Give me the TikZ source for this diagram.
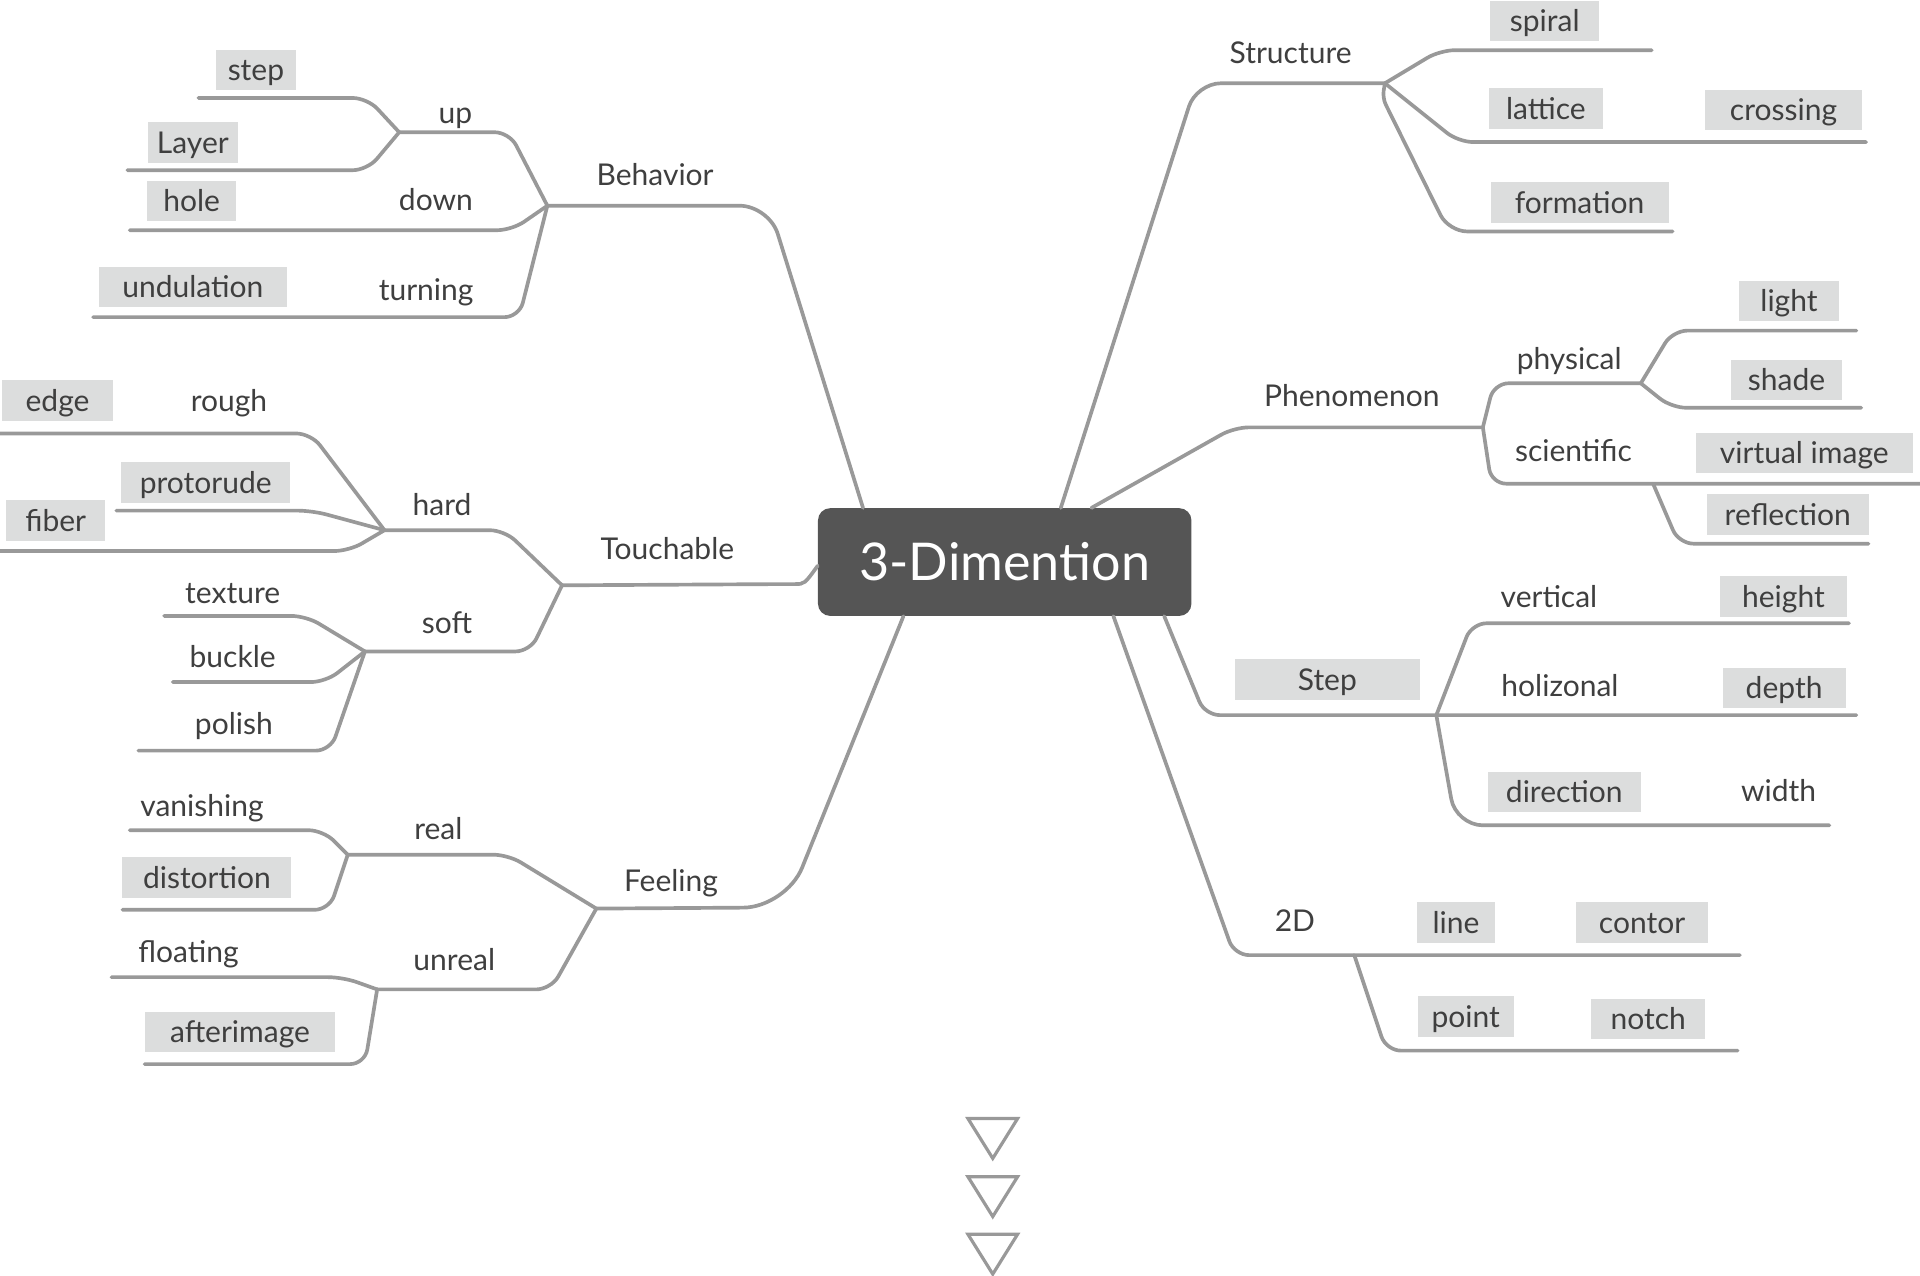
\documentclass[tikz,border=0pt]{standalone}
\usepackage{fontspec}
\setmainfont{Lato}
\newfontfamily\lbfamily{Lato}
\definecolor{linegray}{HTML}{999999}
\definecolor{boxgray}{HTML}{DCDDDD}
\definecolor{txtgray}{HTML}{3F3F3F}
\definecolor{hubgray}{HTML}{555555}
\begin{document}
\begin{tikzpicture}[x=1pt,y=-1pt,
  branch/.style={draw=linegray, line width=3pt, rounded corners=12pt, line cap=round},
  lbl/.style={text=txtgray, font=\lbfamily\fontsize{24.5}{27}\selectfont, inner sep=0pt, text height=17.5pt, text depth=0pt},
  tag/.style={lbl, fill=boxgray, minimum height=33pt},
  hub/.style={fill=hubgray, rounded corners=10pt, minimum width=305pt, minimum height=88pt, inner sep=0pt,
              text=white, font=\lbfamily\fontsize{42.5}{46}\selectfont, text height=30.5pt, text depth=0pt},
  tri/.style={draw=linegray, line width=2.6pt, line join=miter}]
\useasboundingbox (0,0) rectangle (1568,1042);

% ---------- centre ----------
\node[hub] (center) at (820.5,459) {3-Dimention};

% ---------- Behavior ----------
\coordinate (jBeh) at (447,168);
\coordinate (jUp) at (326,108);
\draw[branch, rounded corners=24pt] ([xshift=37pt]center.north west) -- (628,168) -- (jBeh);
\draw[branch] (jBeh) -- (416,108) -- (jUp);
\draw[branch] (jUp) -- (300,80) -- (162,80) coordinate (eStep);
\draw[branch] (jUp) -- (300,139) -- (104,139) coordinate (eLayer);
\draw[branch] (jBeh) -- (418,188) -- (106,188) coordinate (eHole);
\draw[branch] (jBeh) -- (424,259) -- (76,259) coordinate (eUnd);

\node[lbl] (behavior) at (535,143) {Behavior};
\node[lbl] (up) at (372,92) {up};
\node[lbl] (down) at (356,163) {down};
\node[lbl] (turning) at (348,237) {turning};
\node[tag, minimum width=66pt] (step) at (209,57) {step};
\node[tag, minimum width=73pt] (layer) at (157.5,116.5) {Layer};
\node[tag, minimum width=73pt] (hole) at (156.5,164) {hole};
\node[tag, minimum width=153pt] (undulation) at (157.5,234.5) {undulation};

% ---------- Touchable ----------
\coordinate (jTou) at (459,478);
\coordinate (jHard) at (314,433);
\coordinate (jSoft) at (298,532);
\draw[branch] ([yshift=-3pt]center.west) .. controls (657,477) .. (637,477) -- (jTou);
\draw[branch] (jTou) -- (412,433) -- (jHard);
\draw[branch] (jHard) -- (254,354) -- (0,354) coordinate (eRough);
\draw[branch] (jHard) -- (255,417) -- (95,417) coordinate (eProt);
\draw[branch] (jHard) -- (285,450) -- (0,450) coordinate (eFiber);
\draw[branch] (jTou) -- (433,532) -- (jSoft);
\draw[branch] (jSoft) -- (250,503) -- (134,503) coordinate (eTex);
\draw[branch] (jSoft) -- (266,557) -- (141,557) coordinate (eBuck);
\draw[branch] (jSoft) -- (270,613) -- (113,613) coordinate (ePol);

\node[lbl] (touchable) at (545,448) {Touchable};
\node[lbl] (hard) at (361,412) {hard};
\node[lbl] (rough) at (187,327) {rough};
\node[tag, minimum width=90pt] (edge) at (47,327) {edge};
\node[tag, minimum width=138pt] (protorude) at (168,394) {protorude};
\node[tag, minimum width=81pt] (fiber) at (45.5,425) {fiber};
\node[lbl] (soft) at (365,509) {soft};
\node[lbl] (texture) at (190,484) {texture};
\node[lbl] (buckle) at (190,536) {buckle};
\node[lbl] (polish) at (191,591) {polish};

% ---------- Feeling ----------
\coordinate (jFee) at (487,742);
\coordinate (jReal) at (284,698);
\coordinate (jUnr) at (308,808);
\draw[branch, rounded corners=35pt] ([xshift=70pt]center.south west) -- (642,741) -- (jFee);
\draw[branch] (jFee) -- (415,698) -- (jReal);
\draw[branch] (jReal) -- (264,678) -- (106,678) coordinate (eVan);
\draw[branch] (jReal) -- (269,743) -- (100,743) coordinate (eDist);
\draw[branch] (jFee) -- (450,808) -- (jUnr);
\draw[branch] (jUnr) -- (280,798) -- (91,798) coordinate (eFloat);
\draw[branch] (jUnr) -- (298,869) -- (118,869) coordinate (eAfter);

\node[lbl] (feeling) at (548,719) {Feeling};
\node[lbl] (real) at (358,677) {real};
\node[lbl] (vanishing) at (165,658) {vanishing};
\node[tag, minimum width=138pt] (distortion) at (169,716.5) {distortion};
\node[lbl] (unreal) at (371,784) {unreal};
\node[lbl] (floating) at (154,777) {floating};
\node[tag, minimum width=155pt] (afterimage) at (196,843) {afterimage};

% ---------- Structure ----------
\coordinate (jStr) at (1131,68);
\draw[branch, rounded corners=20pt] ([xshift=198.5pt]center.north west) -- (977,68) -- (jStr);
\draw[branch] (jStr) -- (1176,41) -- (1349,41) coordinate (eSpi);
\draw[branch] (jStr) -- (1191,116) -- (1524,116) coordinate (eLat);
\draw[branch] (jStr) [rounded corners=6pt] -- (1129,80) [rounded corners=15pt] -- (1183,189) -- (1366,189) coordinate (eForm);

\node[lbl] (structure) at (1054,43) {Structure};
\node[tag, minimum width=89pt] (spiral) at (1261.5,17) {spiral};
\node[tag, minimum width=93pt] (lattice) at (1262.5,88.5) {lattice};
\node[tag, minimum width=129pt] (crossing) at (1456.5,90) {crossing};
\node[tag, minimum width=145.5pt] (formation) at (1290,165.5) {formation};

% ---------- Phenomenon ----------
\coordinate (jPhe) at (1211,349);
\coordinate (jPhy) at (1340,313);
\coordinate (jSci) at (1350,395);
\draw[branch] ([xshift=223.5pt]center.north west) -- (1008,349) -- (jPhe);
\draw[branch] (jPhe) -- (1220,313) -- (jPhy);
\draw[branch] (jPhy) -- (1366,270) -- (1516,270) coordinate (eLight);
\draw[branch] (jPhy) -- (1365,333) -- (1520,333) coordinate (eShade);
\draw[branch] (jPhe) -- (1218,395) -- (1568,395) coordinate (eSci);
\draw[branch] (jSci) -- (1371,444) -- (1526,444) coordinate (eRefl);

\node[lbl] (phenomenon) at (1104,323) {Phenomenon};
\node[lbl] (physical) at (1281.5,293) {physical};
\node[tag, minimum width=81.5pt] (light) at (1461,246) {light};
\node[tag, minimum width=90pt] (shade) at (1459,310.5) {shade};
\node[lbl] (scientific) at (1285,368) {scientific};
\node[tag, minimum width=177pt] (virtual) at (1473.5,370) {virtual image};
\node[tag, minimum width=132.5pt] (reflection) at (1460,420) {reflection};

% ---------- Step ----------
\coordinate (jStp) at (1173,584);
\draw[branch] ([xshift=283pt]center.south west) -- (984,584) -- (1516,584) coordinate (eDepth);
\draw[branch] (jStp) -- (1202,509) -- (1510,509) coordinate (eHeight);
\draw[branch, rounded corners=22pt] (jStp) -- (1189,674) -- (1494,674) coordinate (eWidth);

\node[tag, minimum width=150.5pt] (stepbr) at (1084,555) {Step};
\node[lbl] (vertical) at (1265,487) {vertical};
\node[tag, minimum width=103pt] (height) at (1456.5,487) {height};
\node[lbl] (holizonal) at (1274,560) {holizonal};
\node[tag, minimum width=100.5pt] (depth) at (1457,562) {depth};
\node[tag, minimum width=125pt] (direction) at (1277.5,647) {direction};
\node[lbl] (width) at (1452.5,646) {width};

% ---------- 2D ----------
\coordinate (j2D) at (1106,780);
\draw[branch] ([xshift=241.5pt]center.south west) -- (1008,780) -- (1421,780) coordinate (eContor);
\draw[branch] (j2D) -- (1132,858) -- (1419,858) coordinate (eNotch);

\node[lbl] (twoD) at (1057.5,752) {2D};
\node[tag, minimum width=63pt] (line) at (1189,753.5) {line};
\node[tag, minimum width=108.5pt] (contor) at (1341,753.5) {contor};
\node[tag, minimum width=78.5pt] (point) at (1197,830) {point};
\node[tag, minimum width=93.5pt] (notch) at (1346,832) {notch};

% ---------- triangles ----------
\foreach \ty in {913.5,961,1008}
  \draw[tri] (790.5,\ty) -- (831,\ty) -- (810.75,{\ty+32.5}) -- cycle;
\end{tikzpicture}
\end{document}
